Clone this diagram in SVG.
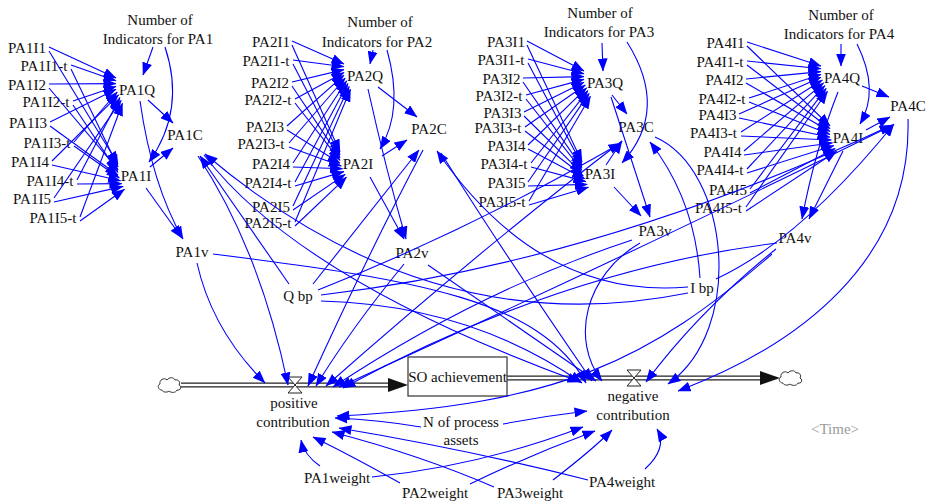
<svg xmlns="http://www.w3.org/2000/svg" width="934" height="502" viewBox="0 0 934 502">
<defs>
  <style>
    text { font-family: "Liberation Serif", "Times New Roman", serif; font-size: 15px; fill: #111; text-anchor: middle; }
    .lk { fill: none; stroke: #0000ff; stroke-width: 1.1; marker-end: url(#ah); }
    .pipe-o { fill: none; stroke: #222; stroke-width: 5; }
    .pipe-i { fill: none; stroke: #fff; stroke-width: 2.4; }
    .valve { fill: #fff; stroke: #222; stroke-width: 1; }
    .cloud { fill: #fff; stroke: #333; stroke-width: 1; }
    .shadow { fill: #999; }
  </style>
  <marker id="ah" viewBox="0 0 13 10" refX="12.5" refY="5" markerWidth="13" markerHeight="10" markerUnits="userSpaceOnUse" orient="auto">
    <path d="M0 0L13 5L0 10z" fill="#0000ff"/>
  </marker>
  <path id="cloud" d="M-8 5c-4 0-5-5-2-6c-1-4 4-7 7-4c2-3 7-3 8 0c3-1 6 2 4 5c3 1 2 6-2 5c-1 3-6 3-8 1c-2 2-7 1-7-1z"/>
</defs>

<!-- stock and flows -->
<g id="flows">
  <path class="pipe-o" d="M181 385H390"/>
  <path class="pipe-i" d="M181 385H390"/>
  <path d="M388 378L408 385L388 392z" fill="#111"/>
  <path class="pipe-o" d="M507 378H762"/>
  <path class="pipe-i" d="M507 378H762"/>
  <path d="M760 371L780 378L760 385z" fill="#111"/>
  <use href="#cloud" class="cloud" x="170" y="385"/>
  <use href="#cloud" class="cloud" x="791" y="378"/>
</g>

<g id="SO_achievement">
  <rect x="408" y="357" width="99" height="39" fill="#fff" stroke="#333" stroke-width="1.2"/>
  <text x="457.5" y="382">SO achievement</text>
</g>
<g id="positive_contribution">
  <path class="valve" d="M288 377H302L288 393H302z"/>
  <text x="294" y="408">positive</text>
  <text x="293" y="427">contribution</text>
</g>
<g id="negative_contribution">
  <path class="valve" d="M627 370H641L627 386H641z"/>
  <text x="633" y="401">negative</text>
  <text x="633" y="420">contribution</text>
</g>

<!-- PA1 -->
<g id="N1"><text x="160" y="25">Number of</text><text x="158" y="44">Indicators for PA1</text></g>
<g id="PA1I1"><text x="27" y="53">PA1I1</text></g>
<g id="PA1I1-t"><text x="44" y="71">PA1I1-t</text></g>
<g id="PA1I2"><text x="27" y="90">PA1I2</text></g>
<g id="PA1I2-t"><text x="46" y="107">PA1I2-t</text></g>
<g id="PA1I3"><text x="28" y="128">PA1I3</text></g>
<g id="PA1I3-t"><text x="47" y="148">PA1I3-t</text></g>
<g id="PA1I4"><text x="30" y="167">PA1I4</text></g>
<g id="PA1I4-t"><text x="50" y="186">PA1I4-t</text></g>
<g id="PA1I5"><text x="32" y="204">PA1I5</text></g>
<g id="PA1I5-t"><text x="53" y="223">PA1I5-t</text></g>
<g id="PA1Q"><text x="137" y="95">PA1Q</text></g>
<g id="PA1I"><text x="136" y="181">PA1I</text></g>
<g id="PA1C"><text x="185" y="140">PA1C</text></g>
<g id="PA1v"><text x="192" y="257">PA1v</text></g>

<!-- PA2 -->
<g id="N2"><text x="380" y="27">Number of</text><text x="377" y="47">Indicators for PA2</text></g>
<g id="PA2I1"><text x="271" y="47">PA2I1</text></g>
<g id="PA2I1-t"><text x="266" y="66">PA2I1-t</text></g>
<g id="PA2I2"><text x="270" y="88">PA2I2</text></g>
<g id="PA2I2-t"><text x="268" y="105">PA2I2-t</text></g>
<g id="PA2I3"><text x="265" y="132">PA2I3</text></g>
<g id="PA2I3-t"><text x="261" y="149">PA2I3-t</text></g>
<g id="PA2I4"><text x="271" y="169">PA2I4</text></g>
<g id="PA2I4-t"><text x="268" y="188">PA2I4-t</text></g>
<g id="PA2I5"><text x="271" y="212">PA2I5</text></g>
<g id="PA2I5-t"><text x="268" y="228">PA2I5-t</text></g>
<g id="PA2Q"><text x="365" y="81">PA2Q</text></g>
<g id="PA2I"><text x="358" y="169">PA2I</text></g>
<g id="PA2C"><text x="429" y="134">PA2C</text></g>
<g id="PA2v"><text x="412" y="258">PA2v</text></g>

<!-- PA3 -->
<g id="N3"><text x="600" y="18">Number of</text><text x="599" y="37">Indicators for PA3</text></g>
<g id="PA3I1"><text x="506" y="47">PA3I1</text></g>
<g id="PA3I1-t"><text x="501" y="65">PA3I1-t</text></g>
<g id="PA3I2"><text x="501.5" y="84">PA3I2</text></g>
<g id="PA3I2-t"><text x="499" y="101">PA3I2-t</text></g>
<g id="PA3I3"><text x="502.5" y="118">PA3I3</text></g>
<g id="PA3I3-t"><text x="498" y="133">PA3I3-t</text></g>
<g id="PA3I4"><text x="506.5" y="151">PA3I4</text></g>
<g id="PA3I4-t"><text x="504" y="169">PA3I4-t</text></g>
<g id="PA3I5"><text x="506.5" y="188">PA3I5</text></g>
<g id="PA3I5-t"><text x="502" y="207">PA3I5-t</text></g>
<g id="PA3Q"><text x="605" y="88">PA3Q</text></g>
<g id="PA3I"><text x="600" y="179">PA3I</text></g>
<g id="PA3C"><text x="636" y="132">PA3C</text></g>
<g id="PA3v"><text x="655" y="236">PA3v</text></g>

<!-- PA4 -->
<g id="N4"><text x="841" y="20">Number of</text><text x="839" y="39">Indicators for PA4</text></g>
<g id="PA4I1"><text x="725.5" y="48">PA4I1</text></g>
<g id="PA4I1-t"><text x="720" y="67">PA4I1-t</text></g>
<g id="PA4I2"><text x="724.5" y="85">PA4I2</text></g>
<g id="PA4I2-t"><text x="722" y="104">PA4I2-t</text></g>
<g id="PA4I3"><text x="717.5" y="120">PA4I3</text></g>
<g id="PA4I3-t"><text x="713.5" y="138">PA4I3-t</text></g>
<g id="PA4I4"><text x="722.5" y="157">PA4I4</text></g>
<g id="PA4I4-t"><text x="720" y="175">PA4I4-t</text></g>
<g id="PA4I5"><text x="728" y="195">PA4I5</text></g>
<g id="PA4I5-t"><text x="718.5" y="213">PA4I5-t</text></g>
<g id="PA4Q"><text x="842" y="83">PA4Q</text></g>
<g id="PA4I"><text x="848" y="143">PA4I</text></g>
<g id="PA4C"><text x="908" y="111">PA4C</text></g>
<g id="PA4v"><text x="795" y="243">PA4v</text></g>

<!-- shared inputs -->
<g id="Qbp"><text x="298" y="301">Q bp</text></g>
<g id="Ibp"><text x="702" y="293">I bp</text></g>
<g id="N_process_assets"><text x="461" y="427">N of process</text><text x="461" y="445">assets</text></g>
<g id="PA1weight"><text x="337" y="483">PA1weight</text></g>
<g id="PA2weight"><text x="435" y="498">PA2weight</text></g>
<g id="PA3weight"><text x="530" y="498">PA3weight</text></g>
<g id="PA4weight"><text x="622" y="487">PA4weight</text></g>
<g id="Time"><text class="shadow" x="835" y="434">&lt;Time&gt;</text></g>

<!-- information links -->
<g id="connectors">
  <!-- PA1 indicators to PA1Q -->
  <path class="lk" d="M49 47L116 78"/>
  <path class="lk" d="M71 65L116 80.8"/>
  <path class="lk" d="M49 84L116 83.6"/>
  <path class="lk" d="M73 101L116 86.4"/>
  <path class="lk" d="M50 122L116 89.2"/>
  <path class="lk" d="M74 142L117.3 92"/>
  <path class="lk" d="M52 161L118.6 94.8"/>
  <path class="lk" d="M77 180L119.9 97.6"/>
  <path class="lk" d="M54 198L121.2 100.4"/>
  <path class="lk" d="M80 217L122.5 103.2"/>
  <!-- PA1 indicators to PA1I -->
  <path class="lk" d="M49 51L118 164"/>
  <path class="lk" d="M71 69L118 166.8"/>
  <path class="lk" d="M49 88L118 169.6"/>
  <path class="lk" d="M73 105L118 172.4"/>
  <path class="lk" d="M50 126L118 175.2"/>
  <path class="lk" d="M74 146L119.3 178"/>
  <path class="lk" d="M52 165L120.6 180.8"/>
  <path class="lk" d="M77 184L121.9 183.6"/>
  <path class="lk" d="M54 202L123.2 186.4"/>
  <path class="lk" d="M80 221L124.5 189.2"/>
  <path class="lk" d="M153 47L143 75"/>
  <path class="lk" d="M165 47Q186 110 149 162"/>
  <path class="lk" d="M148 100L173 123"/>
  <path class="lk" d="M150 167L173 148"/>
  <path class="lk" d="M140 101Q152 185 183 239"/>
  <path class="lk" d="M146 188L182 238"/>

  <!-- PA2 indicators to PA2Q -->
  <path class="lk" d="M292 41L344 64"/>
  <path class="lk" d="M293 60L344 66.8"/>
  <path class="lk" d="M292 82L344 69.6"/>
  <path class="lk" d="M295 99L344 72.4"/>
  <path class="lk" d="M287 126L344 75.2"/>
  <path class="lk" d="M289 143L345.3 78"/>
  <path class="lk" d="M293 163L346.6 80.8"/>
  <path class="lk" d="M295 182L347.9 83.6"/>
  <path class="lk" d="M293 206L349.2 86.4"/>
  <path class="lk" d="M295 222L350.5 89.2"/>
  <!-- PA2 indicators to PA2I -->
  <path class="lk" d="M292 45L340 152"/>
  <path class="lk" d="M293 64L340 154.8"/>
  <path class="lk" d="M292 86L340 157.6"/>
  <path class="lk" d="M295 103L340 160.4"/>
  <path class="lk" d="M287 130L340 163.2"/>
  <path class="lk" d="M289 147L341.3 166"/>
  <path class="lk" d="M293 167L342.6 168.8"/>
  <path class="lk" d="M295 186L343.9 171.6"/>
  <path class="lk" d="M293 210L345.2 174.4"/>
  <path class="lk" d="M295 226L346.5 177.2"/>
  <path class="lk" d="M373 50L370 64"/>
  <path class="lk" d="M387 50Q404 110 380 149"/>
  <path class="lk" d="M378 87L417 117"/>
  <path class="lk" d="M382 156L407 140"/>
  <path class="lk" d="M368 89Q386 170 406 239"/>
  <path class="lk" d="M370 177L404 239"/>

  <!-- PA3 indicators to PA3Q -->
  <path class="lk" d="M527 41L584 71"/>
  <path class="lk" d="M528 59L584 73.8"/>
  <path class="lk" d="M523 78L584 76.6"/>
  <path class="lk" d="M526 95L584 79.4"/>
  <path class="lk" d="M524 112L584 82.2"/>
  <path class="lk" d="M525 127L585.3 85"/>
  <path class="lk" d="M528 145L586.6 87.8"/>
  <path class="lk" d="M531 163L587.9 90.6"/>
  <path class="lk" d="M528 182L589.2 93.4"/>
  <path class="lk" d="M529 201L590.5 96.2"/>
  <!-- PA3 indicators to PA3I -->
  <path class="lk" d="M527 45L582 162"/>
  <path class="lk" d="M528 63L582 164.8"/>
  <path class="lk" d="M523 82L582 167.6"/>
  <path class="lk" d="M526 99L582 170.4"/>
  <path class="lk" d="M524 116L582 173.2"/>
  <path class="lk" d="M525 131L583.3 176"/>
  <path class="lk" d="M528 149L584.6 178.8"/>
  <path class="lk" d="M531 167L585.9 181.6"/>
  <path class="lk" d="M528 186L587.2 184.4"/>
  <path class="lk" d="M529 205L588.5 187.2"/>
  <path class="lk" d="M602 43L603 71"/>
  <path class="lk" d="M627 42Q670 110 622 163"/>
  <path class="lk" d="M612 95L627 114"/>
  <path class="lk" d="M606 165L622 141"/>
  <path class="lk" d="M611 97L650 217"/>
  <path class="lk" d="M614 187L641 216"/>

  <!-- PA4 indicators to PA4Q -->
  <path class="lk" d="M747 42L821 66"/>
  <path class="lk" d="M747 61L821 68.8"/>
  <path class="lk" d="M746 79L821 71.6"/>
  <path class="lk" d="M749 98L821 74.4"/>
  <path class="lk" d="M739 114L821 77.2"/>
  <path class="lk" d="M741 132L822.3 80"/>
  <path class="lk" d="M744 151L823.6 82.8"/>
  <path class="lk" d="M747 169L824.9 85.6"/>
  <path class="lk" d="M750 189L826.2 88.4"/>
  <path class="lk" d="M746 207L827.5 91.2"/>
  <!-- PA4 indicators to PA4I -->
  <path class="lk" d="M747 46L830 126"/>
  <path class="lk" d="M747 65L830 128.8"/>
  <path class="lk" d="M746 83L830 131.6"/>
  <path class="lk" d="M749 102L830 134.4"/>
  <path class="lk" d="M739 118L830 137.2"/>
  <path class="lk" d="M741 136L831.3 140"/>
  <path class="lk" d="M744 155L832.6 142.8"/>
  <path class="lk" d="M747 173L833.9 145.6"/>
  <path class="lk" d="M750 193L835.2 148.4"/>
  <path class="lk" d="M746 211L836.5 151.2"/>
  <path class="lk" d="M841 44L841 66"/>
  <path class="lk" d="M857 44Q880 90 860 124"/>
  <path class="lk" d="M862 86L889 97"/>
  <path class="lk" d="M866 130L890 117"/>
  <path class="lk" d="M838 92Q815 150 802 219"/>
  <path class="lk" d="M843 151L809 219"/>

  <!-- benchmarks to compliance -->
  <path class="lk" d="M289 284L200 156"/>
  <path class="lk" d="M313 284L419 150"/>
  <path class="lk" d="M318 290Q470 230 621 143"/>
  <path class="lk" d="M321 295Q600 262 892 125"/>
  <path class="lk" d="M688 293Q430 345 205 154"/>
  <path class="lk" d="M688 287Q540 300 437 151"/>
  <path class="lk" d="M700 278Q695 200 650 142"/>
  <path class="lk" d="M716 279Q800 240 894 124"/>

  <!-- compliance to contributions -->
  <path class="lk" d="M198 156Q260 250 288 385"/>
  <path class="lk" d="M204 155Q300 280 580 382"/>
  <path class="lk" d="M423 150Q370 250 308 386"/>
  <path class="lk" d="M441 153Q505 255 592 381"/>
  <path class="lk" d="M622 141Q480 250 326 386"/>
  <path class="lk" d="M655 137C730 170 745 330 668 384"/>
  <path class="lk" d="M893 125Q640 250 339 387"/>
  <path class="lk" d="M908 119C912 260 800 345 678 391"/>

  <!-- values to contributions -->
  <path class="lk" d="M197 263Q212 330 265 383"/>
  <path class="lk" d="M213 254C420 280 540 300 586 383"/>
  <path class="lk" d="M404 264Q350 330 316 386"/>
  <path class="lk" d="M428 265L596 381"/>
  <path class="lk" d="M632 240Q480 290 333 387"/>
  <path class="lk" d="M640 243C585 275 570 340 602 381"/>
  <path class="lk" d="M777 243Q560 270 343 388"/>
  <path class="lk" d="M776 249Q700 310 646 382"/>
  <path class="lk" d="M772 254C650 360 560 405 337 416"/>
  <path class="lk" d="M321 301Q470 305 582 383"/>

  <!-- process assets and weights -->
  <path class="lk" d="M421 427Q380 420 335 418"/>
  <path class="lk" d="M503 424Q545 416 587 411"/>
  <path class="lk" d="M320 466Q304 455 301 440"/>
  <path class="lk" d="M372 477Q480 466 583 427"/>
  <path class="lk" d="M400 483Q350 455 313 437"/>
  <path class="lk" d="M470 484Q530 455 595 431"/>
  <path class="lk" d="M494 487Q420 455 332 432"/>
  <path class="lk" d="M553 480Q592 450 612 430"/>
  <path class="lk" d="M588 480Q470 450 339 428"/>
  <path class="lk" d="M645 469Q668 448 657 429"/>
</g>
</svg>
